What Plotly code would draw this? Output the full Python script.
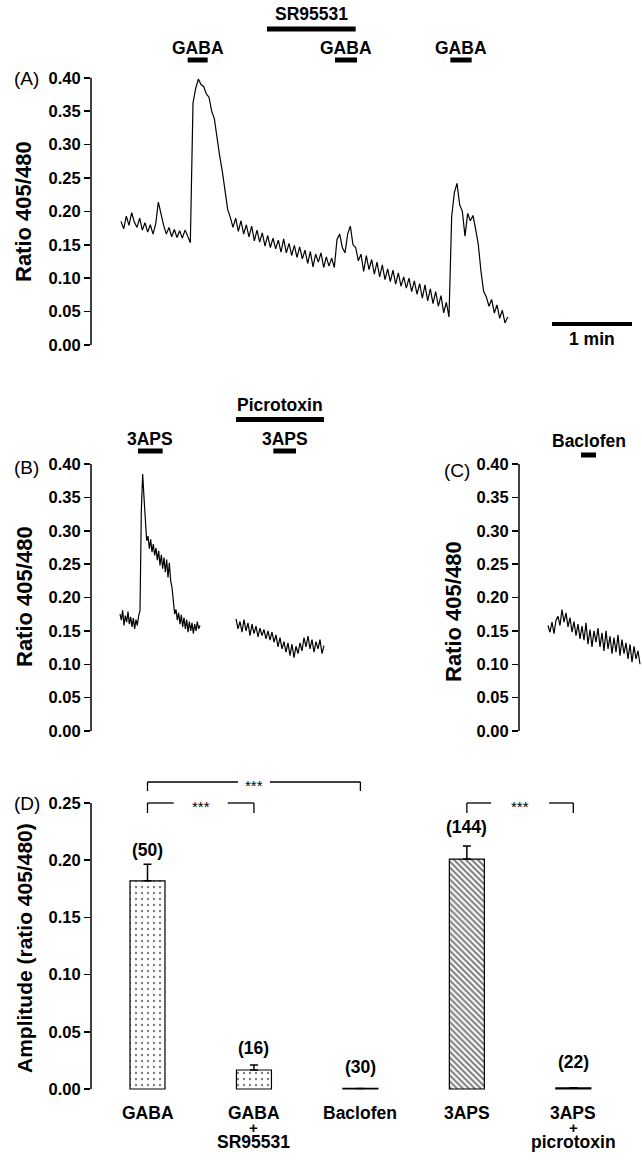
import numpy as np
import plotly.graph_objects as go

W, H = 642, 1168
FONT = "Liberation Sans, Arial, Helvetica, sans-serif"

# ======================= DATA =======================
# (A) GABA / SR95531 recording: ratio 405/480 sampled every 2 s
a_start_s = 0.0
a_step_s = 2.0
a_ratio = [
    0.185, 0.174, 0.193, 0.179, 0.198, 0.184, 0.176, 0.190, 0.172, 0.183,
    0.169, 0.180, 0.166, 0.181, 0.214, 0.196, 0.179, 0.166, 0.176, 0.162,
    0.173, 0.161, 0.171, 0.160, 0.172, 0.163, 0.153, 0.362, 0.384, 0.398,
    0.390, 0.387, 0.376, 0.371, 0.350, 0.339, 0.308, 0.283, 0.260, 0.233,
    0.203, 0.191, 0.176, 0.190, 0.170, 0.186, 0.166, 0.180, 0.162, 0.178,
    0.156, 0.172, 0.154, 0.168, 0.148, 0.164, 0.146, 0.160, 0.144, 0.157,
    0.139, 0.159, 0.138, 0.152, 0.134, 0.149, 0.131, 0.147, 0.129, 0.142,
    0.122, 0.140, 0.117, 0.136, 0.124, 0.138, 0.116, 0.132, 0.118, 0.130,
    0.116, 0.158, 0.166, 0.146, 0.138, 0.166, 0.178, 0.150, 0.146, 0.126,
    0.136, 0.110, 0.134, 0.113, 0.128, 0.106, 0.124, 0.102, 0.120, 0.098,
    0.114, 0.095, 0.112, 0.091, 0.108, 0.088, 0.102, 0.085, 0.100, 0.080,
    0.096, 0.076, 0.092, 0.070, 0.090, 0.066, 0.084, 0.062, 0.080, 0.058,
    0.074, 0.048, 0.064, 0.042, 0.192, 0.228, 0.242, 0.210, 0.200, 0.163,
    0.197, 0.186, 0.194, 0.173, 0.150, 0.110, 0.080, 0.072, 0.058, 0.068,
    0.048, 0.060, 0.040, 0.052, 0.033, 0.042,
]
a_drugs = ["GABA", "SR95531", "GABA", "GABA"]
a_drug_on_s = [50.0, 109.5, 160.5, 247.0]
a_drug_off_s = [65.0, 176.0, 177.0, 263.0]
scale_bar_s = 60.0
scale_bar_label = "1 min"

# (B) 3APS, then 3APS under picrotoxin
b1_start_s = 0.0
b1_step_s = 1.0
b1_ratio = [
    0.175, 0.166, 0.181, 0.158, 0.173, 0.163, 0.179, 0.160, 0.171, 0.156,
    0.169, 0.153, 0.167, 0.158, 0.173, 0.180, 0.330, 0.385, 0.350, 0.320,
    0.285, 0.292, 0.273, 0.287, 0.268, 0.280, 0.263, 0.274, 0.256, 0.270,
    0.248, 0.264, 0.243, 0.260, 0.238, 0.257, 0.230, 0.252, 0.225, 0.215,
    0.195, 0.175, 0.182, 0.166, 0.177, 0.160, 0.174, 0.156, 0.170, 0.153,
    0.167, 0.148, 0.164, 0.150, 0.162, 0.146, 0.160, 0.150, 0.164, 0.153,
    0.158,
]
b2_start_s = 87.0
b2_step_s = 1.5
b2_ratio = [
    0.168, 0.153, 0.164, 0.148, 0.167, 0.150, 0.162, 0.143, 0.160, 0.146,
    0.157, 0.141, 0.154, 0.143, 0.152, 0.138, 0.150, 0.136, 0.148, 0.133,
    0.144, 0.126, 0.140, 0.123, 0.134, 0.118, 0.132, 0.113, 0.130, 0.110,
    0.127, 0.116, 0.132, 0.120, 0.140, 0.126, 0.142, 0.123, 0.137, 0.118,
    0.134, 0.123, 0.137, 0.116, 0.128,
]
b_drugs = ["3APS", "Picrotoxin", "3APS"]
b_drug_on_s = [13.5, 87.0, 115.0]
b_drug_off_s = [32.0, 153.0, 132.0]

# (C) Baclofen
c_start_s = 0.0
c_step_s = 1.5
c_ratio = [
    0.158, 0.148, 0.163, 0.146, 0.166, 0.172, 0.158, 0.182, 0.163, 0.177,
    0.156, 0.170, 0.148, 0.164, 0.143, 0.160, 0.138, 0.157, 0.136, 0.162,
    0.130, 0.152, 0.126, 0.150, 0.133, 0.154, 0.126, 0.147, 0.120, 0.150,
    0.123, 0.142, 0.116, 0.140, 0.118, 0.144, 0.113, 0.137, 0.116, 0.132,
    0.108, 0.130, 0.103, 0.127, 0.108, 0.120, 0.100,
]
c_drugs = ["Baclofen"]
c_drug_on_s = [24.75]
c_drug_off_s = [36.0]

ratio_ticks = [0.00, 0.05, 0.10, 0.15, 0.20, 0.25, 0.30, 0.35, 0.40]

# (D) mean amplitudes
d_categories = [["GABA"], ["GABA", "+", "SR95531"], ["Baclofen"],
                ["3APS"], ["3APS", "+", "picrotoxin"]]
d_amplitude = [0.182, 0.0166, 0.0005, 0.201, 0.001]
d_sem = [0.0144, 0.0044, 0.0, 0.0114, 0.0]
d_n = [50, 16, 30, 144, 22]
d_comparisons = [(0, 2), (0, 1), (3, 4)]
d_significance = ["***", "***", "***"]
amp_ticks = [0.00, 0.05, 0.10, 0.15, 0.20, 0.25]

# ======================= GEOMETRY / STYLE =======================
def fx(px):
    return px / W


def fy(py):
    return 1 - py / H


SPP = 0.75  # seconds per pixel in traces (1 min = 80 px)
PANELS = {
    "A": dict(ax="", xpx=(91, 642), t0px=121, ypx=(0, 360), y0px=345, ppu=668.0),
    "B": dict(ax="2", xpx=(91, 505), t0px=120, ypx=(390, 750), y0px=731, ppu=667.5),
    "C": dict(ax="3", xpx=(519, 642), t0px=548, ypx=(390, 750), y0px=731, ppu=667.5),
}
D = dict(ax="4", xpx=(91, 642), c0px=147.5, cpx=106.45, ypx=(770, 1168), y0px=1089, ppu=1144.0)

LAB = 17.5
TICK = 16.5

fig = go.Figure()
shapes = []
annotations = []
layout_axes = {}


def yval(p, py):
    return (p["y0px"] - py) / p["ppu"]


def tval(p, px):
    return (px - p["t0px"]) * SPP


def ratio_axes(p):
    ax = p["ax"]
    layout_axes["xaxis" + ax] = dict(
        domain=[fx(p["xpx"][0]), fx(p["xpx"][1])],
        range=[tval(p, p["xpx"][0]), tval(p, p["xpx"][1])],
        visible=False, anchor="y" + ax, fixedrange=True)
    layout_axes["yaxis" + ax] = dict(
        domain=[fy(p["ypx"][1]), fy(p["ypx"][0])],
        range=[yval(p, p["ypx"][1]), yval(p, p["ypx"][0])],
        anchor="x" + ax, tickvals=ratio_ticks,
        ticktext=["%.2f" % v for v in ratio_ticks],
        ticks="outside", ticklen=6, tickwidth=1.5, tickcolor="black",
        showline=False, showgrid=False, zeroline=False,
        tickfont=dict(family=FONT, size=TICK, color="black", weight="bold"),
        fixedrange=True)
    shapes.append(dict(type="line", xref="x" + ax + " domain", yref="y" + ax,
                       x0=0, x1=0, y0=ratio_ticks[0], y1=ratio_ticks[-1],
                       line=dict(color="black", width=1.5)))


def add_trace(p, start, step, vals):
    ax = p["ax"]
    t = start + step * np.arange(len(vals))
    fig.add_trace(go.Scatter(x=t, y=vals, mode="lines",
                             line=dict(color="black", width=1.2),
                             xaxis="x" + ax, yaxis="y" + ax,
                             hoverinfo="skip"))


def add_drugs(p, names, on, off, bar_px, label_px):
    ax = p["ax"]
    for name, t0, t1, bp, lp in zip(names, on, off, bar_px, label_px):
        shapes.append(dict(type="line", xref="x" + ax, yref="y" + ax,
                           x0=t0, x1=t1, y0=yval(p, bp), y1=yval(p, bp),
                           line=dict(color="black", width=5)))
        annotations.append(dict(xref="x" + ax, yref="y" + ax,
                                x=(t0 + t1) / 2, y=yval(p, lp), text=name,
                                showarrow=False, xanchor="center", yanchor="middle",
                                font=dict(family=FONT, size=LAB, color="black",
                                          weight="bold")))


for key in "ABC":
    ratio_axes(PANELS[key])

pA, pB, pC = PANELS["A"], PANELS["B"], PANELS["C"]
add_trace(pA, a_start_s, a_step_s, a_ratio)
add_trace(pB, b1_start_s, b1_step_s, b1_ratio)
add_trace(pB, b2_start_s, b2_step_s, b2_ratio)
add_trace(pC, c_start_s, c_step_s, c_ratio)

add_drugs(pA, a_drugs, a_drug_on_s, a_drug_off_s, [60, 29, 60, 60], [47.5, 14, 47.5, 47.5])
add_drugs(pB, b_drugs, b_drug_on_s, b_drug_off_s, [451, 419.5, 451], [439, 404.5, 439])
add_drugs(pC, c_drugs, c_drug_on_s, c_drug_off_s, [455], [441])

# scale bar in A
sb0 = tval(pA, 552)
shapes.append(dict(type="line", xref="x", yref="y", x0=sb0, x1=sb0 + scale_bar_s,
                   y0=yval(pA, 324), y1=yval(pA, 324),
                   line=dict(color="black", width=4)))
annotations.append(dict(xref="x", yref="y", x=sb0 + scale_bar_s / 2, y=yval(pA, 339),
                        text=scale_bar_label, showarrow=False,
                        font=dict(family=FONT, size=LAB, color="black", weight="bold")))

# ---------------- panel D ----------------
def dval(py):
    return (D["y0px"] - py) / D["ppu"]


layout_axes["xaxis4"] = dict(
    domain=[fx(D["xpx"][0]), fx(D["xpx"][1])],
    range=[(D["xpx"][0] - D["c0px"]) / D["cpx"], (D["xpx"][1] - D["c0px"]) / D["cpx"]],
    visible=False, anchor="y4", fixedrange=True)
layout_axes["yaxis4"] = dict(
    domain=[fy(D["ypx"][1]), fy(D["ypx"][0])],
    range=[dval(D["ypx"][1]), dval(D["ypx"][0])],
    anchor="x4", tickvals=amp_ticks, ticktext=["%.2f" % v for v in amp_ticks],
    ticks="outside", ticklen=6, tickwidth=1.5, tickcolor="black",
    showline=False, showgrid=False, zeroline=False,
    tickfont=dict(family=FONT, size=TICK, color="black", weight="bold"),
    fixedrange=True)
shapes.append(dict(type="line", xref="x4 domain", yref="y4", x0=0, x1=0,
                   y0=amp_ticks[0], y1=amp_ticks[-1],
                   line=dict(color="black", width=1.5)))

xs = list(range(len(d_amplitude)))
fig.add_trace(go.Bar(
    x=xs, y=d_amplitude, width=35 / D["cpx"], xaxis="x4", yaxis="y4",
    marker=dict(color="white", line=dict(color="black", width=1.2),
                pattern=dict(shape=[".", ".", "", "\\", ""],
                             size=[6, 6, 6, 4.2, 6],
                             solidity=[0.12, 0.12, 0.1, 0.5, 0.1],
                             fgcolor="black", bgcolor="white")),
    error_y=dict(type="data", symmetric=False, array=d_sem,
                 arrayminus=[0] * len(d_sem), width=4, thickness=1.5,
                 color="black"),
    hoverinfo="skip"))

n_shift = [2, 4.5, 9.5, 7, 13.5]
for i, (a, s, n) in enumerate(zip(d_amplitude, d_sem, d_n)):
    annotations.append(dict(xref="x4", yref="y4", x=i, y=a + s, yshift=n_shift[i],
                            text="(%d)" % n, showarrow=False, xanchor="center",
                            yanchor="bottom",
                            font=dict(family=FONT, size=LAB, color="black",
                                      weight="bold")))

row_px = [1112.5, 1127, 1142]
row_size = [LAB, 15, LAB]
for i, lines in enumerate(d_categories):
    for j, txt in enumerate(lines):
        annotations.append(dict(xref="x4", yref="paper", x=i, y=fy(row_px[j]),
                                text=txt, showarrow=False, xanchor="center",
                                yanchor="middle",
                                font=dict(family=FONT, size=row_size[j], color="black",
                                          weight="bold")))

bracket_top_px = [782, 803, 803]
bracket_leg_px = [791, 813, 813]
bracket_gap_px = [16, 27, 29]
for (i, j), sig, tp, lp, gp in zip(d_comparisons, d_significance,
                                   bracket_top_px, bracket_leg_px, bracket_gap_px):
    yt, yl = dval(tp), dval(lp)
    mid = (i + j) / 2
    g = gp / D["cpx"]
    for seg in [(i, i, yl, yt), (i, mid - g, yt, yt), (mid + g, j, yt, yt), (j, j, yt, yl)]:
        shapes.append(dict(type="line", xref="x4", yref="y4", x0=seg[0], x1=seg[1],
                           y0=seg[2], y1=seg[3], line=dict(color="black", width=1.3)))
    annotations.append(dict(xref="x4", yref="y4", x=mid, y=yt, yshift=-3, text=sig,
                            showarrow=False, xanchor="center", yanchor="middle",
                            font=dict(family=FONT, size=15, color="black")))

# ---------------- panel letters & axis titles ----------------
for letter, lx, ly in [("(A)", 12, 78.5), ("(B)", 12, 468), ("(C)", 442, 470),
                       ("(D)", 12, 803)]:
    annotations.append(dict(xref="paper", yref="paper", x=fx(lx), y=fy(ly), text=letter,
                            showarrow=False, xanchor="left", yanchor="middle",
                            font=dict(family=FONT, size=19, color="black")))

for txt, tx, ty, size in [("Ratio 405/480", 24, 212, 22), ("Ratio 405/480", 24, 597, 22),
                          ("Ratio 405/480", 453, 612, 22),
                          ("Amplitude (ratio 405/480)", 24, 948, 21)]:
    annotations.append(dict(xref="paper", yref="paper", x=fx(tx), y=fy(ty), text=txt,
                            textangle=-90, showarrow=False, xanchor="center",
                            yanchor="middle",
                            font=dict(family=FONT, size=size, color="black",
                                      weight="bold")))

fig.update_layout(
    width=W, height=H, margin=dict(l=0, r=0, t=0, b=0),
    paper_bgcolor="white", plot_bgcolor="rgba(0,0,0,0)",
    showlegend=False, shapes=shapes, annotations=annotations,
    font=dict(family=FONT, color="black"), hovermode=False,
    **layout_axes)

# remove the browser's default 8px page margin so the figure fills the window
fig.write_html("out.html",
               config={"displayModeBar": False, "staticPlot": True},
               post_script="document.body.style.margin='0';"
                           "document.body.style.overflow='hidden';")
